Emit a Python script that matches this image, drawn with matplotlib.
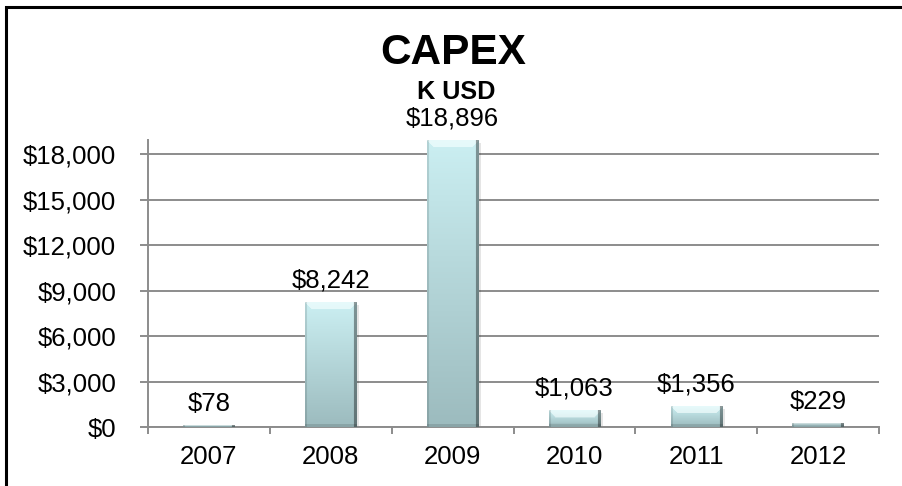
import numpy as np
import matplotlib
matplotlib.use("Agg")
import matplotlib.pyplot as plt
from matplotlib.patches import Rectangle
from matplotlib.ticker import FuncFormatter, MultipleLocator, FixedLocator
from matplotlib.transforms import offset_copy

years = ["2007", "2008", "2009", "2010", "2011", "2012"]
capex = [78, 8242, 18896, 1063, 1356, 229]
title = "CAPEX"
subtitle = "K USD"

plt.rcParams['font.family'] = ['Liberation Sans', 'DejaVu Sans']

W, H = 902, 486
fig = plt.figure(figsize=(W / 100, H / 100), dpi=100)
fig.patch.set_facecolor("white")

ax_left, ax_right, ax_top, ax_bot = 148, 879, 140, 427
ax = fig.add_axes([ax_left / W, (H - ax_bot) / H, (ax_right - ax_left) / W, (ax_bot - ax_top) / H])

x = np.arange(len(years))
bars = ax.bar(x, capex, width=0.42, color="none", edgecolor="none", zorder=3)
ax.set_xlim(-0.5, len(years) - 0.5)
ax.set_ylim(0, 18940)

FS = 18.5
grid_c = "#8c8c8c"
ax.yaxis.set_major_locator(MultipleLocator(3000))
ax.yaxis.set_major_formatter(FuncFormatter(lambda v, p: "${:,.0f}".format(v)))
ax.grid(axis="y", color=grid_c, linewidth=1.4, zorder=0)
ax.set_axisbelow(True)
for s in ["top", "right"]:
    ax.spines[s].set_visible(False)
ax.spines["left"].set_color(grid_c)
ax.spines["left"].set_linewidth(1.4)
ax.spines["bottom"].set_color(grid_c)
ax.spines["bottom"].set_linewidth(1.4)

ax.set_xticks(x)
ax.set_xticklabels(years)
ax.xaxis.set_minor_locator(FixedLocator(np.arange(len(years) + 1) - 0.5))
ax.tick_params(axis="x", which="major", length=0, pad=13, labelsize=FS, labelcolor="black")
ax.tick_params(axis="x", which="minor", length=5, width=1.4, color=grid_c, direction="out")
ax.tick_params(axis="y", which="major", length=6, width=1.4, color=grid_c, pad=17, labelsize=FS, labelcolor="black")

# gradient fill for bars
fig.canvas.draw()
top_c = np.array([0xcb, 0xef, 0xf2]) / 255
bot_c = np.array([0x9c, 0xbb, 0xbe]) / 255
for b in bars:
    bx, bw, bh = b.get_x(), b.get_width(), b.get_height()
    p0 = ax.transData.transform((bx, 0))
    p1 = ax.transData.transform((bx + bw, bh))
    wpx = max(int(round(p1[0] - p0[0])), 2)
    hpx = max(int(round(p1[1] - p0[1])), 2)
    t = np.linspace(0, 1, hpx)[:, None, None]
    img = top_c * (1 - t) + bot_c * t
    img = np.repeat(img, wpx, axis=1)
    bev = min(7, hpx // 2, wpx // 2)
    yy, xx = np.mgrid[0:hpx, 0:wpx]
    topmask = (yy < bev) & (xx >= yy) & (xx <= wpx - 1 - yy)
    img[topmask] = img[topmask] * 0.35 + 0.65 * np.array([0.96, 1.0, 1.0])
    rmask = (xx >= wpx - 3)
    img[rmask] = img[rmask] * 0.62
    lmask = (xx < 2)
    img[lmask] = img[lmask] * 0.88
    bmask = (yy >= hpx - 3)
    img[bmask] = img[bmask] * 0.88
    img = np.clip(img, 0, 1)
    sh = Rectangle((bx, 0), bw, bh, facecolor="#000000", alpha=0.10, edgecolor="none", zorder=1,
                   transform=offset_copy(ax.transData, fig=fig, x=3, y=-2.5, units="dots"))
    ax.add_patch(sh)
    ax.imshow(img, extent=(bx, bx + bw, 0, bh), aspect="auto", zorder=4, interpolation="bilinear",
              origin="upper")
    ax.text(bx + bw / 2, bh, "${:,.0f}".format(bh), ha="center", va="baseline", fontsize=FS,
            transform=offset_copy(ax.transData, fig=fig, x=0, y=15, units="dots"), zorder=5)

ax.set_xlim(-0.5, len(years) - 0.5)
ax.set_ylim(0, 18940)

fig.text(453 / W, 1 - 52.5 / H, title, ha="center", va="center", fontsize=30.5, fontweight="bold")
fig.text(456 / W, 1 - 92 / H, subtitle, ha="center", va="center", fontsize=18.2, fontweight="bold")

frame = Rectangle((5.5 / W, -0.05), 1.1, 1 - 7.5 / H + 0.05, transform=fig.transFigure,
                  facecolor="none", edgecolor="black", linewidth=2.2, clip_on=False)
fig.add_artist(frame)

fig.savefig("out.png", dpi=100, facecolor="white")
